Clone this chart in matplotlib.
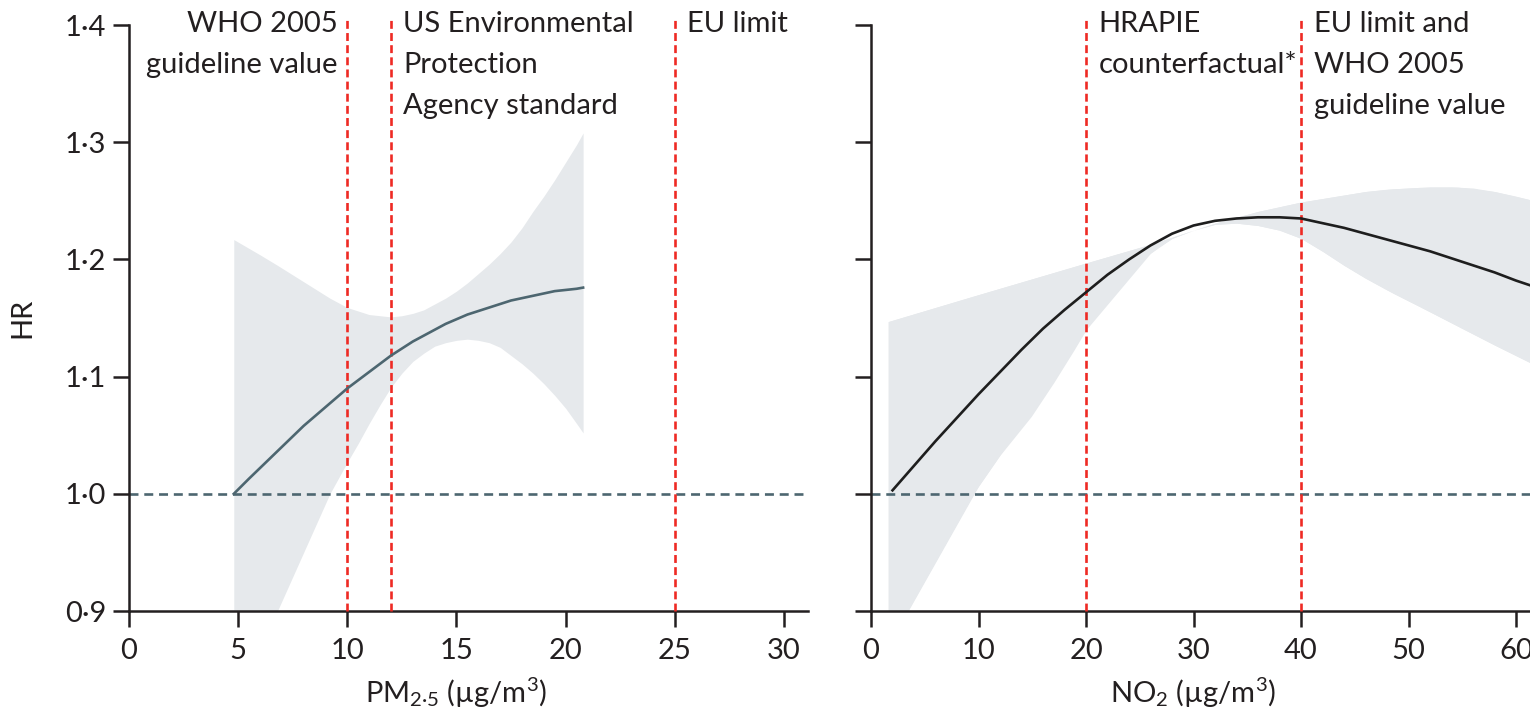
import numpy as np
import matplotlib.pyplot as plt

plt.rcParams['font.family'] = ['Lato', 'DejaVu Sans']
plt.rcParams['mathtext.fontset'] = 'custom'
plt.rcParams['mathtext.rm'] = 'Lato'
plt.rcParams['mathtext.it'] = 'Lato:italic'

# y axis (shared)
hr_ticks = [0.9, 1.0, 1.1, 1.2, 1.3, 1.4]
hr_labels = ['0·9', '1·0', '1·1', '1·2', '1·3', '1·4']

# PM2.5 panel
pm_x = [4.8, 5.5, 6.0, 6.5, 7.0, 7.5, 8.0, 8.5, 9.0, 9.5, 10.0, 10.5, 11.0, 11.5, 12.0, 12.5,
        13.0, 13.5, 14.0, 14.5, 15.0, 15.5, 16.0, 16.5, 17.0, 17.5, 18.0, 18.5, 19.0, 19.5,
        20.0, 20.5, 20.8]
pm_hr = [1.000, 1.013, 1.022, 1.031, 1.040, 1.049, 1.058, 1.066, 1.074, 1.082, 1.090, 1.097,
         1.104, 1.111, 1.118, 1.124, 1.130, 1.135, 1.140, 1.145, 1.149, 1.153, 1.156, 1.159,
         1.162, 1.165, 1.167, 1.169, 1.171, 1.173, 1.174, 1.175, 1.176]
pm_ci_x = [4.8, 6.0, 6.8, 8.0, 9.2, 10.0, 10.5, 11.0, 11.5, 12.0, 12.5, 13.0, 13.5, 14.0,
           14.5, 15.0, 15.5, 16.0, 16.5, 17.0, 17.5, 18.0, 18.5, 19.0, 19.5, 20.0, 20.5, 20.8]
pm_upper = [1.217, 1.204, 1.195, 1.181, 1.167, 1.159, 1.156, 1.153, 1.152, 1.151, 1.152, 1.154,
            1.157, 1.162, 1.167, 1.173, 1.180, 1.188, 1.196, 1.205, 1.215, 1.227, 1.241, 1.254,
            1.268, 1.283, 1.298, 1.308]
pm_lower = [0.830, 0.868, 0.900, 0.950, 1.000, 1.027, 1.043, 1.060, 1.076, 1.091, 1.103, 1.113,
            1.120, 1.126, 1.129, 1.131, 1.132, 1.131, 1.129, 1.125, 1.118, 1.111, 1.103, 1.094,
            1.084, 1.073, 1.060, 1.052]
pm_xticks = [0, 5, 10, 15, 20, 25, 30]
pm_refs = [10, 12, 25]
pm_ref_text = ['WHO 2005\nguideline value', 'US Environmental\nProtection\nAgency standard', 'EU limit']

# NO2 panel
no2_x = [2, 4, 6, 8, 10, 12, 14, 16, 18, 20, 22, 24, 26, 28, 30, 32, 34, 36, 38, 40, 42, 44,
         46, 48, 50, 52, 54, 56, 58, 60, 61.3]
no2_hr = [1.003, 1.024, 1.045, 1.065, 1.085, 1.104, 1.123, 1.141, 1.157, 1.172, 1.187, 1.200,
          1.212, 1.222, 1.229, 1.233, 1.235, 1.236, 1.236, 1.235, 1.231, 1.227, 1.222, 1.217,
          1.212, 1.207, 1.201, 1.195, 1.189, 1.182, 1.178]
no2_up_x = [1.6, 10, 20, 26, 28, 30, 32, 34, 36, 38, 40, 42, 44, 46, 48, 50, 52, 54, 56, 58,
            60, 61.3]
no2_upper = [1.147, 1.170, 1.197, 1.213, 1.219, 1.225, 1.231, 1.236, 1.241, 1.245, 1.249, 1.252,
             1.255, 1.258, 1.260, 1.261, 1.262, 1.262, 1.261, 1.258, 1.254, 1.251]
no2_lo_x = [1.6, 3.4, 6, 9.5, 12, 14.9, 17, 18.9, 20, 21.2, 22.8, 24.8, 26.8, 28, 30, 32, 34,
            36, 38, 40, 42, 44, 46, 48.6, 51, 54.6, 58, 61.3]
no2_lower = [0.870, 0.900, 0.943, 1.000, 1.033, 1.066, 1.095, 1.123, 1.140, 1.160, 1.180, 1.197,
             1.211, 1.218, 1.225, 1.230, 1.231, 1.229, 1.225, 1.218, 1.207, 1.195, 1.184, 1.171,
             1.160, 1.143, 1.127, 1.112]
no2_xticks = [0, 10, 20, 30, 40, 50, 60]
no2_refs = [20, 40]
no2_ref_text = ['HRAPIE\ncounterfactual*', 'EU limit and\nWHO 2005\nguideline value']

ink = '#231f20'
red = '#ee2a24'
slate = '#4d6670'
band = '#e6e9ec'
fs = 21

fig = plt.figure(figsize=(15.3, 7.18), dpi=100)
ax1 = fig.add_axes([0.0843, 0.149, 0.4438, 0.816])
ax2 = fig.add_axes([0.5693, 0.149, 0.4307, 0.816])


def style(ax, xmax, xticks):
	ax.set_xlim(0, xmax)
	ax.set_ylim(0.9, 1.4)
	for s in ['top', 'right']:
		ax.spines[s].set_visible(False)
	for s in ['left', 'bottom']:
		ax.spines[s].set_linewidth(1.8)
		ax.spines[s].set_color(ink)
	ax.set_xticks(xticks)
	ax.set_yticks(hr_ticks, labels=hr_labels)
	ax.tick_params(direction='out', length=11.5, width=1.8, color=ink,
		labelsize=fs, labelcolor=ink)
	ax.tick_params(axis='x', pad=8)
	ax.tick_params(axis='y', pad=5)
	ax.axhline(1.0, color=slate, lw=1.9, dashes=(3.4, 2.2), zorder=2)


def refs(ax, xs, texts, right_first=False):
	for i, (x, t) in enumerate(zip(xs, texts)):
		ax.axvline(x, ymin=0, ymax=1.01, color=red, lw=1.9, dashes=(3.0, 1.6),
			clip_on=False, zorder=3)
		if right_first and i == 0:
			ax.annotate(t, xy=(x, 1), xycoords=('data', 'axes fraction'),
				xytext=(-7, 10), textcoords='offset points', ha='right', va='top',
				fontsize=fs, color=ink, linespacing=1.72, annotation_clip=False)
		else:
			ax.annotate(t, xy=(x, 1), xycoords=('data', 'axes fraction'),
				xytext=(9, 10), textcoords='offset points', ha='left', va='top',
				fontsize=fs, color=ink, linespacing=1.72, annotation_clip=False)


style(ax1, 31.1, pm_xticks)
ax1.fill_between(pm_ci_x, pm_lower, pm_upper, color=band, lw=0, zorder=1)
ax1.plot(pm_x, pm_hr, color=slate, lw=1.9, zorder=4)
refs(ax1, pm_refs, pm_ref_text, right_first=True)
ax1.set_ylabel('HR', fontsize=fs, color=ink)
ax1.yaxis.set_label_coords(-0.138, 0.5)
ax1.set_xlabel('PM$_{\\mathregular{2·5}}$ (µg/m$^{\\mathregular{3}}$)', fontsize=fs, color=ink)
ax1.xaxis.set_label_coords(15 / 31.1, -0.11)

style(ax2, 61.3, no2_xticks)
ax2.tick_params(axis='y', labelleft=False)
ax2.fill_between(no2_up_x, np.interp(no2_up_x, no2_lo_x, no2_lower), no2_upper,
	color=band, lw=0, zorder=1)
ax2.fill_between(no2_lo_x, no2_lower, np.interp(no2_lo_x, no2_up_x, no2_upper),
	color=band, lw=0, zorder=1)
ax2.plot(no2_x, no2_hr, color='#1e1e1e', lw=1.9, zorder=4)
refs(ax2, no2_refs, no2_ref_text)
ax2.set_xlabel('NO$_{\\mathregular{2}}$ (µg/m$^{\\mathregular{3}}$)', fontsize=fs, color=ink)
ax2.xaxis.set_label_coords(30 / 61.3, -0.11)

plt.savefig('out.png', dpi=100)
